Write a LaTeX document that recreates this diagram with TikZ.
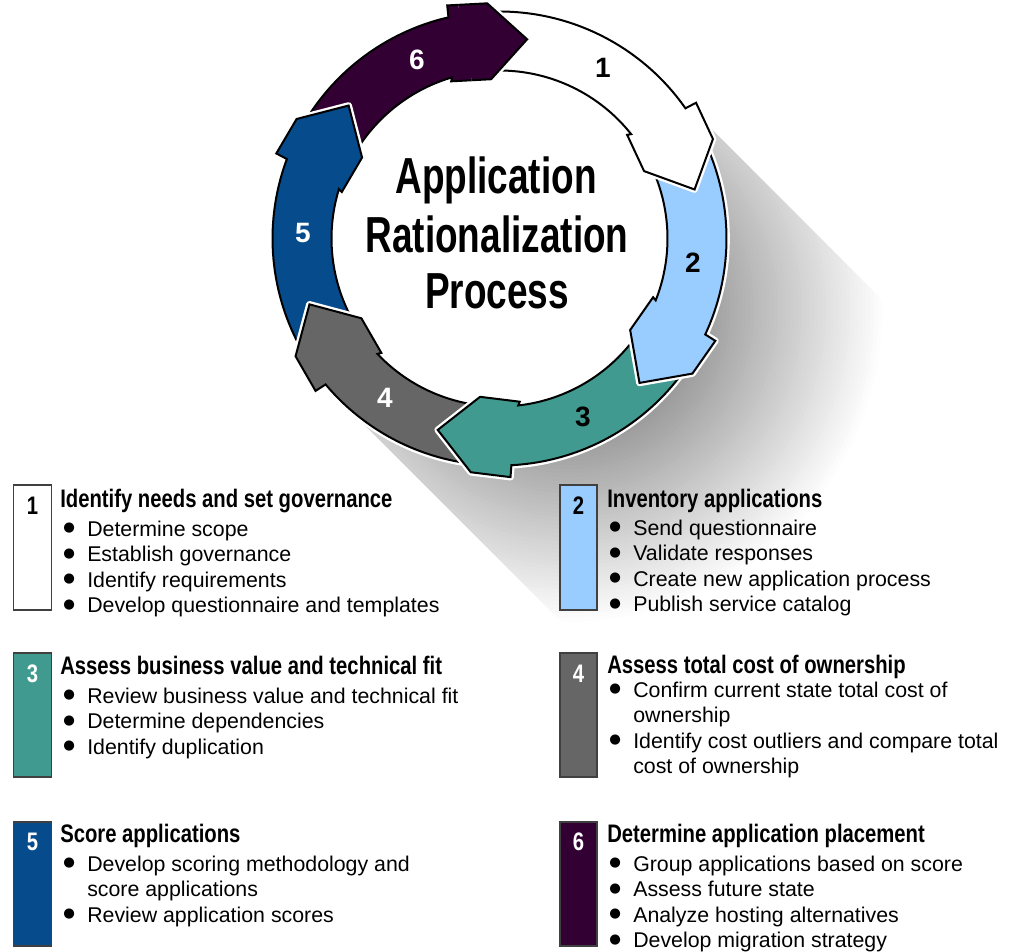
\documentclass[tikz,border=0pt]{standalone}
\usepackage{fontspec}
\setmainfont{Liberation Sans}
\newfontfamily\condfont[FakeStretch=0.80]{Liberation Sans}
\newfontfamily\titlefont[FakeStretch=0.73]{Liberation Sans}
\newfontfamily\symfont{DejaVu Sans}
\usetikzlibrary{calc}
\definecolor{cB}{HTML}{99CCFF}
\definecolor{cC}{HTML}{409A8F}
\definecolor{cD}{HTML}{666666}
\definecolor{cE}{HTML}{064C8C}
\definecolor{cF}{HTML}{330033}
\definecolor{boxline}{HTML}{404040}
% #1 = shoulder angle of previous arrow, #2 = shoulder angle of this arrow
\newcommand\ArrowPath[2]{%
($(C)+({#1+2.14}:227)$) arc[start angle={#1+2.14}, end angle={#2-10}, radius=227]
-- ($(C)+(#2:197.5)+({#2-90}:40)+(#2:38)$)
-- ($(C)+(#2:235.5)$)
-- ($(C)+(#2:197.5)+({#2+90}:38)$)
-- ($(C)+(#2:159.5)$)
-- ($(C)+(#2:197.5)+({#2-90}:40)+({#2+180}:38)$)
-- ($(C)+({#2-13.4}:168)$) arc[start angle={#2-13.4}, end angle={#1+2.9}, radius=168]
-- ($(C)+(#1:197.5)+({#1+90}:38)$) -- cycle}
\newcommand\bul{\makebox[18pt][l]{\raisebox{3.2pt}{\symfont\fontsize{10}{10}\selectfont ●}}}
\newcommand\nobul{\hspace*{18pt}}
\begin{document}
\begin{tikzpicture}[x=0.75pt, y=-0.75pt,
  arrowsty/.style={draw=black, line width=1.5pt, line join=miter,
    preaction={draw=white, line width=5pt, line join=round}},
  lbl/.style={font=\bfseries\fontsize{21}{24}\selectfont, inner sep=0pt},
  titletxt/.style={anchor=base, inner sep=0pt, font=\titlefont\bfseries\fontsize{38}{44}\selectfont},
  headtxt/.style={anchor=base west, inner sep=0pt, font=\condfont\bfseries\fontsize{19}{22}\selectfont},
  numtxt/.style={anchor=base, inner sep=0pt, font=\condfont\bfseries\fontsize{19}{22}\selectfont},
  listtxt/.style={anchor=base west, inner sep=0pt, font=\fontsize{16}{19.2}\selectfont},
  numbox/.style={draw=boxline, line width=0.8pt}]
\useasboundingbox (0,0) rectangle (1016,951);
\coordinate (C) at (499.5,238.5);

% long shadow
\begin{scope}[shift={(C)}, rotate=-45]
  \clip (0,-227) rectangle (470,227);
  \foreach \r in {316,312,...,128} {
    \pgfmathsetmacro\p{40*(316-\r)/188}
    \fill[black!\p] (100,0) circle[radius=\r];
  }
\end{scope}
\fill[white] (C) circle[radius=227];

% ring of arrows
\foreach \ps/\fs/\col in {570.5/627/cF, 510/570.5/cE, 457/510/cD, 395/457/cC, 335/395/cB, 267/335/white} {
  \path[arrowsty, fill=\col] \ArrowPath{\ps}{\fs};
}
\begin{scope}
  \clip ($(C)+(620:270)$) -- ($(C)+(650:270)$) -- ($(C)+(650:120)$) -- ($(C)+(620:120)$) -- cycle;
  \path[arrowsty, fill=cF] \ArrowPath{570.5}{627};
\end{scope}

% arrow numbers
\node[lbl, text=black] (a1) at (603,68) {1};
\node[lbl, text=black] (a2) at (693,263) {2};
\node[lbl, text=black] (a3) at (583,417) {3};
\node[lbl, text=white] (a4) at (385,398) {4};
\node[lbl, text=white] (a5) at (303,233) {5};
\node[lbl, text=white] (a6) at (417,60) {6};

% title
\node[titletxt] (t1) at (496,193) {Application};
\node[titletxt] (t2) at (497,252) {Rationalization};
\node[titletxt] (t3) at (497,308) {Process};

% legend boxes
\filldraw[numbox, fill=white] (13.5,485) rectangle (51.5,610);
\filldraw[numbox, fill=cB] (560,485) rectangle (597,610);
\filldraw[numbox, fill=cC] (13.5,653) rectangle (51.5,777);
\filldraw[numbox, fill=cD] (560,653) rectangle (597,777);
\filldraw[numbox, fill=cE] (13.5,822) rectangle (51.5,946);
\filldraw[numbox, fill=cF] (560,822) rectangle (597,946);

\node[numtxt, text=black] (n1) at (32.5,514) {1};
\node[numtxt, text=black] (n2) at (578.5,514) {2};
\node[numtxt, text=white] (n3) at (32.5,682) {3};
\node[numtxt, text=white] (n4) at (578.5,682) {4};
\node[numtxt, text=white] (n5) at (32.5,850) {5};
\node[numtxt, text=white] (n6) at (578.5,850) {6};

\node[headtxt] (h1) at (60,507) {Identify needs and set governance};
\node[headtxt] (h2) at (607,507) {Inventory applications};
\node[headtxt] (h3) at (60,674) {Assess business value and technical fit};
\node[headtxt] (h4) at (607,673) {Assess total cost of ownership};
\node[headtxt] (h5) at (60,842) {Score applications};
\node[headtxt] (h6) at (607,842) {Determine application placement};

\node[listtxt] (l1) at (63,536) {\begin{tabular}[t]{@{}l@{}}
\bul Determine scope\\ \bul Establish governance\\ \bul Identify requirements\\ \bul Develop questionnaire and templates\end{tabular}};
\node[listtxt] (l2) at (609,535) {\begin{tabular}[t]{@{}l@{}}
\bul Send questionnaire\\ \bul Validate responses\\ \bul Create new application process\\ \bul Publish service catalog\end{tabular}};
\node[listtxt] (l3) at (63,703) {\begin{tabular}[t]{@{}l@{}}
\bul Review business value and technical fit\\ \bul Determine dependencies\\ \bul Identify duplication\end{tabular}};
\node[listtxt] (l4) at (609,697) {\begin{tabular}[t]{@{}l@{}}
\bul Confirm current state total cost of\\ \nobul ownership\\ \bul Identify cost outliers and compare total\\ \nobul cost of ownership\end{tabular}};
\node[listtxt] (l5) at (63,871) {\begin{tabular}[t]{@{}l@{}}
\bul Develop scoring methodology and\\ \nobul score applications\\ \bul Review application scores\end{tabular}};
\node[listtxt] (l6) at (609,871) {\begin{tabular}[t]{@{}l@{}}
\bul Group applications based on score\\ \bul Assess future state\\ \bul Analyze hosting alternatives\\ \bul Develop migration strategy\end{tabular}};
\end{tikzpicture}
\end{document}
